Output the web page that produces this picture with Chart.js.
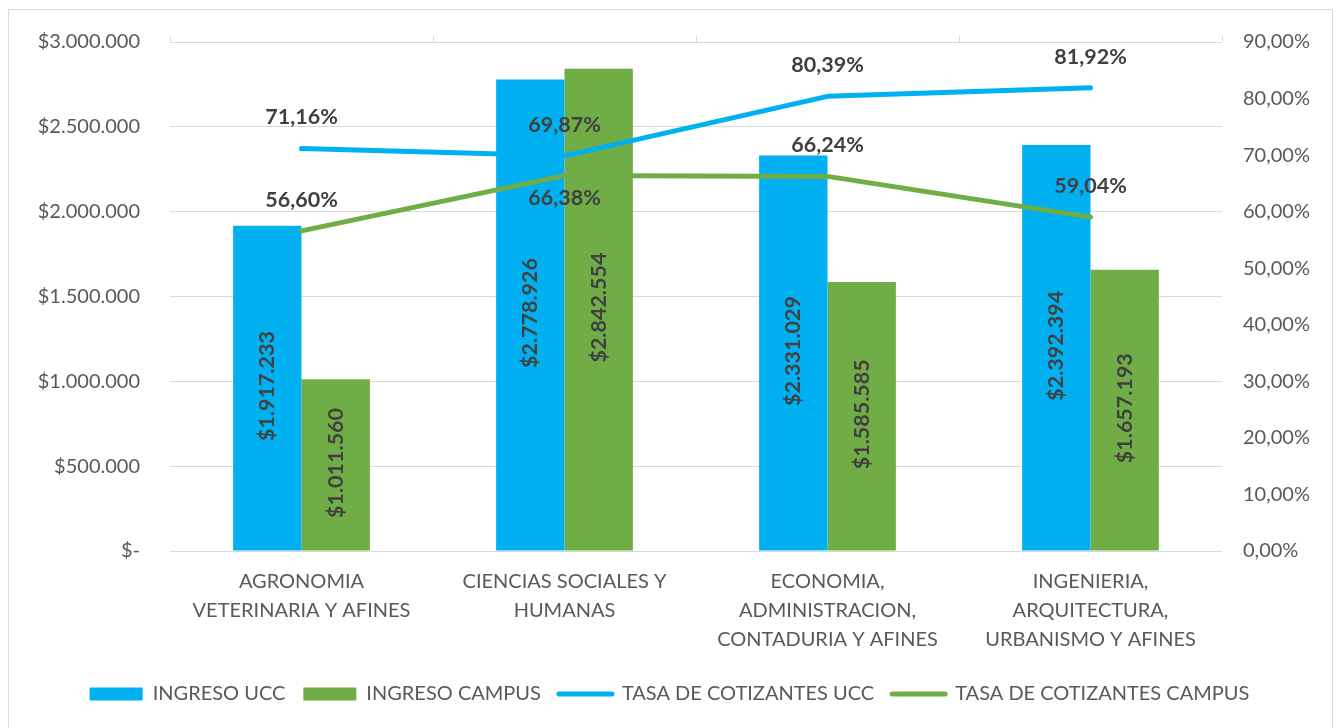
<!DOCTYPE html>
<html>
<head>
<meta charset="utf-8">
<script src="https://cdn.jsdelivr.net/npm/chart.js@4/dist/chart.umd.min.js"></script>
<style>
html,body{margin:0;padding:0;background:#fff;}
#wrap{width:1339px;height:728px;position:relative;}
</style>
</head>
<body>
<div id="wrap"><canvas id="c" width="1339" height="728"></canvas></div>
<script>
const categories = [
  ["AGRONOMIA", "VETERINARIA Y AFINES"],
  ["CIENCIAS SOCIALES Y", "HUMANAS"],
  ["ECONOMIA,", "ADMINISTRACION,", "CONTADURIA Y AFINES"],
  ["INGENIERIA,", "ARQUITECTURA,", "URBANISMO Y AFINES"]
];
const ingresoUCC = [1917233, 2778926, 2331029, 2392394];
const ingresoCampus = [1011560, 2842554, 1585585, 1657193];
const tasaUCC = [71.16, 69.87, 80.39, 81.92];
const tasaCampus = [56.60, 66.38, 66.24, 59.04];
const seriesNames = ["INGRESO UCC", "INGRESO CAMPUS", "TASA DE COTIZANTES UCC", "TASA DE COTIZANTES CAMPUS"];

const BLUE = '#00B0F0', GREEN = '#70AD47';
const FONT = 'Lato, "Open Sans", sans-serif';

function money(v) {
  if (v === 0) return '$-';
  return '$' + Math.round(v).toString().replace(/\B(?=(\d{3})+(?!\d))/g, '.');
}
function pct(v) { return v.toFixed(2).replace('.', ',') + '%'; }

const borderPlugin = {
  id: 'outerBorder',
  beforeDraw(chart) {
    const ctx = chart.ctx;
    ctx.save();
    ctx.fillStyle = '#fff';
    ctx.fillRect(0, 0, chart.width, chart.height);
    ctx.strokeStyle = '#d9d9d9';
    ctx.lineWidth = 1;
    ctx.beginPath();
    ctx.moveTo(8.5, chart.height);
    ctx.lineTo(8.5, 9.5);
    ctx.lineTo(1332.5, 9.5);
    ctx.lineTo(1332.5, chart.height);
    ctx.stroke();
    ctx.restore();
  }
};

const labelPlugin = {
  id: 'valueLabels',
  afterDatasetsDraw(chart) {
    const ctx = chart.ctx;
    ctx.save();
    ctx.fillStyle = '#404040';
    ctx.font = 'bold 21.5px ' + FONT;
    chart.data.datasets.forEach((ds, di) => {
      const meta = chart.getDatasetMeta(di);
      meta.data.forEach((el, i) => {
        const v = ds.data[i];
        if (ds.type === 'bar') {
          const cy = (el.y + el.base) / 2 - 2;
          ctx.save();
          ctx.translate(el.x, cy);
          ctx.rotate(-Math.PI / 2);
          ctx.textAlign = 'center';
          ctx.textBaseline = 'middle';
          ctx.fillText(money(v), 0, 0);
          ctx.restore();
        } else {
          const below = ds.labelBelow && ds.labelBelow[i];
          ctx.textAlign = 'center';
          ctx.textBaseline = 'middle';
          ctx.fillText(pct(v), el.x, el.y + (below ? 22 : -31));
        }
      });
    });
    ctx.restore();
  }
};

new Chart(document.getElementById('c'), {
  data: {
    labels: categories,
    datasets: [
      { type: 'bar', label: seriesNames[0], data: ingresoUCC, backgroundColor: BLUE, yAxisID: 'y', order: 2,
        categoryPercentage: 0.52, barPercentage: 1.0 },
      { type: 'bar', label: seriesNames[1], data: ingresoCampus, backgroundColor: GREEN, yAxisID: 'y', order: 2,
        categoryPercentage: 0.52, barPercentage: 1.0 },
      { type: 'line', label: seriesNames[2], data: tasaUCC, borderColor: BLUE, backgroundColor: BLUE, yAxisID: 'y1', order: 1,
        borderWidth: 5, pointRadius: 0, borderCapStyle: 'round', borderJoinStyle: 'round', tension: 0, fill: false },
      { type: 'line', label: seriesNames[3], data: tasaCampus, borderColor: GREEN, backgroundColor: GREEN, yAxisID: 'y1', order: 1,
        borderWidth: 5, pointRadius: 0, borderCapStyle: 'round', borderJoinStyle: 'round', tension: 0, fill: false,
        labelBelow: [false, true, false, false] }
    ]
  },
  options: {
    responsive: false,
    animation: false,
    layout: { padding: { left: 0, right: 0, top: 0, bottom: 14 } },
    plugins: {
      tooltip: { enabled: false },
      legend: {
        position: 'bottom',
        labels: {
          color: '#595959',
          font: { family: FONT, size: 20 },
          usePointStyle: true,
          pointStyleWidth: 53,
          boxHeight: 13,
          padding: 18,
          sort: (a, b) => a.datasetIndex - b.datasetIndex,
          generateLabels(chart) {
            return chart.data.datasets.map((ds, i) => ({
              text: ds.label,
              datasetIndex: i,
              fillStyle: ds.type === 'bar' ? ds.backgroundColor : ds.borderColor,
              strokeStyle: ds.type === 'bar' ? ds.backgroundColor : ds.borderColor,
              lineWidth: ds.type === 'bar' ? 0 : 5,
              lineCap: 'round',
              pointStyle: ds.type === 'bar' ? 'rect' : 'line',
              fontColor: '#595959',
              hidden: false
            }));
          }
        }
      }
    },
    scales: {
      x: {
        position: 'bottom',
        offset: true,
        grid: { display: false, offset: true },
        border: { display: false },
        ticks: { color: '#595959', font: { family: FONT, size: 20, lineHeight: 1.45 }, padding: 8.5, maxRotation: 0, autoSkip: false },
        afterFit(s) { s.height = 115; }
      },
      x2: {
        type: 'category',
        position: 'top',
        offset: true,
        grid: { display: true, offset: true, drawOnChartArea: false, drawTicks: true, tickLength: 6, color: '#d9d9d9', lineWidth: 1 },
        border: { display: false },
        ticks: { display: false },
        afterFit(s) { s.height = 39; }
      },
      y: {
        position: 'left',
        min: 0, max: 3000000,
        ticks: { stepSize: 500000, color: '#595959', font: { family: FONT, size: 20 }, padding: 30, callback: (v) => money(v) },
        grid: { color: '#d9d9d9', lineWidth: 1, drawTicks: false },
        border: { display: false },
        afterFit(s) { s.width = 170; }
      },
      y1: {
        position: 'right',
        min: 0, max: 90,
        ticks: { stepSize: 10, color: '#595959', font: { family: FONT, size: 20 }, padding: 21, callback: (v) => pct(v) },
        grid: { drawOnChartArea: false, drawTicks: false },
        border: { display: false },
        afterFit(s) { s.width = 117; }
      }
    }
  },
  plugins: [borderPlugin, labelPlugin]
});
</script>
</body>
</html>
